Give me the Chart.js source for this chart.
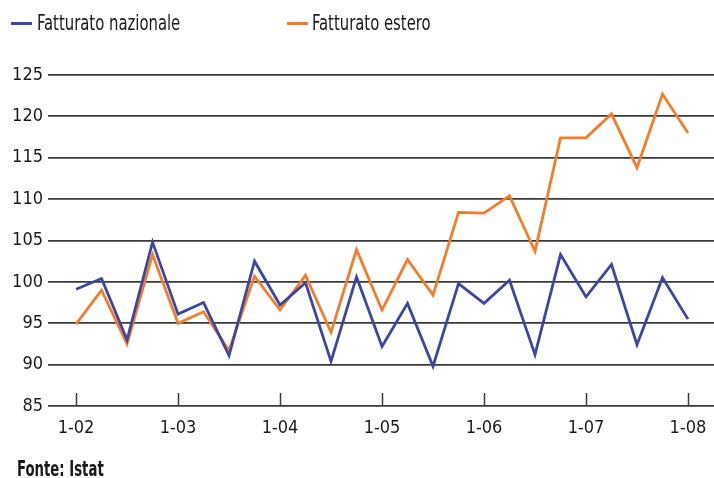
<!DOCTYPE html>
<html lang="it">
<head>
<meta charset="utf-8">
<title>Fatturato nazionale ed estero</title>
<script src="https://cdn.jsdelivr.net/npm/chart.js@4.4.1/dist/chart.umd.min.js"></script>
<style>
  html, body { margin: 0; padding: 0; background: #fff; overflow: hidden; }
  #wrap { position: relative; width: 714px; height: 478px; }
  canvas { position: absolute; left: 0; top: 0; }
  .txt { position: absolute; font-family: "DejaVu Sans Condensed", "Liberation Sans Narrow", sans-serif; font-size: 22px; color: #1a1a1a; white-space: nowrap; line-height: 1; transform-origin: 0 0; }
  .key { position: absolute; height: 3px; }
</style>
</head>
<body>
<div id="wrap">
  <canvas id="c" width="714" height="478"></canvas>
  <div class="key" style="left:11px; top:22px; width:21px; background:#3c46a3;"></div>
  <div class="txt" style="left:37px; top:12px; transform: scaleX(0.75);">Fatturato nazionale</div>
  <div class="key" style="left:287px; top:22px; width:21px; background:#f47d2b;"></div>
  <div class="txt" style="left:312px; top:12px; transform: scaleX(0.75);">Fatturato estero</div>
  <div class="txt" style="left:17px; top:458px; font-weight:bold; transform: scaleX(0.67);">Fonte: Istat</div>
</div>
<script>
// Quarterly periods, January 2002 to January 2008
const quarters = [
  "1-02", "4-02", "7-02", "10-02",
  "1-03", "4-03", "7-03", "10-03",
  "1-04", "4-04", "7-04", "10-04",
  "1-05", "4-05", "7-05", "10-05",
  "1-06", "4-06", "7-06", "10-06",
  "1-07", "4-07", "7-07", "10-07",
  "1-08"
];

// Labels shown on the time axis (one per year)
const yearLabels = ["1-02", "1-03", "1-04", "1-05", "1-06", "1-07", "1-08"];

// Turnover index, domestic market
const fatturatoNazionale = [
  99.1, 100.4, 93.0, 104.8,
  96.1, 97.5, 91.1, 102.5,
  97.2, 99.9, 90.4, 100.6,
  92.2, 97.4, 89.8, 99.8,
  97.4, 100.2, 91.2, 103.3,
  98.2, 102.1, 92.4, 100.5,
  95.5
];

// Turnover index, foreign markets
const fatturatoEstero = [
  94.9, 99.0, 92.5, 103.3,
  95.0, 96.4, 91.7, 100.7,
  96.6, 100.8, 93.9, 103.9,
  96.6, 102.7, 98.4, 108.4,
  108.3, 110.4, 103.7, 117.4,
  117.4, 120.3, 113.8, 122.7,
  118.0
];

// Y axis tick values
const yTicks = [85, 90, 95, 100, 105, 110, 115, 120, 125];

const FONT = "'DejaVu Sans Condensed', 'Liberation Sans Narrow', sans-serif";
const INK = "#1a1a1a";
const GRID = "#3a3a3a";

const toPoints = arr => arr.map((v, i) => ({ x: i, y: v }));

// Short upward tick marks at each yearly position on the base line
const yearTickMarks = {
  id: "yearTickMarks",
  afterDatasetsDraw(chart) {
    const xs = chart.scales.x;
    const bottom = chart.chartArea.bottom;
    const ctx = chart.ctx;
    ctx.save();
    ctx.strokeStyle = GRID;
    ctx.lineWidth = 1.5;
    xs.ticks.forEach(t => {
      const px = Math.round(xs.getPixelForValue(t.value)) + 0.5;
      ctx.beginPath();
      ctx.moveTo(px, bottom - 13);
      ctx.lineTo(px, bottom);
      ctx.stroke();
    });
    ctx.restore();
  }
};

new Chart(document.getElementById("c"), {
  type: "line",
  data: {
    labels: quarters,
    datasets: [
      {
        label: "Fatturato nazionale",
        data: toPoints(fatturatoNazionale),
        borderColor: "#3c46a3",
        borderWidth: 2.8,
        pointRadius: 0,
        tension: 0,
        fill: false
      },
      {
        label: "Fatturato estero",
        data: toPoints(fatturatoEstero),
        borderColor: "#f47d2b",
        borderWidth: 2.8,
        pointRadius: 0,
        tension: 0,
        fill: false
      }
    ]
  },
  options: {
    responsive: false,
    animation: false,
    devicePixelRatio: 1,
    layout: { padding: { top: 75, left: 0, right: 0, bottom: 0 } },
    plugins: {
      legend: { display: false },
      tooltip: { enabled: false }
    },
    scales: {
      x: {
        type: "linear",
        min: -1.1,
        max: 25.02,
        afterBuildTicks(scale) {
          scale.ticks = yearLabels.map((_, i) => ({ value: i * 4 }));
        },
        afterFit(scale) {
          scale.height = 72;
          scale.paddingLeft = 0;
          scale.paddingRight = 0;
        },
        grid: { display: false, drawTicks: false },
        border: { display: false },
        ticks: {
          padding: 12,
          maxRotation: 0,
          autoSkip: false,
          color: INK,
          font: { family: FONT, size: 18 },
          callback: v => yearLabels[v / 4]
        }
      },
      y: {
        min: 85,
        max: 125,
        afterBuildTicks(scale) {
          scale.ticks = yTicks.map(v => ({ value: v }));
        },
        afterFit(scale) { scale.width = 48; },
        grid: { color: GRID, lineWidth: 1.8, drawTicks: false },
        border: { display: false },
        ticks: {
          padding: 5,
          color: INK,
          font: { family: FONT, size: 18 }
        }
      }
    }
  },
  plugins: [yearTickMarks]
});
</script>
</body>
</html>
